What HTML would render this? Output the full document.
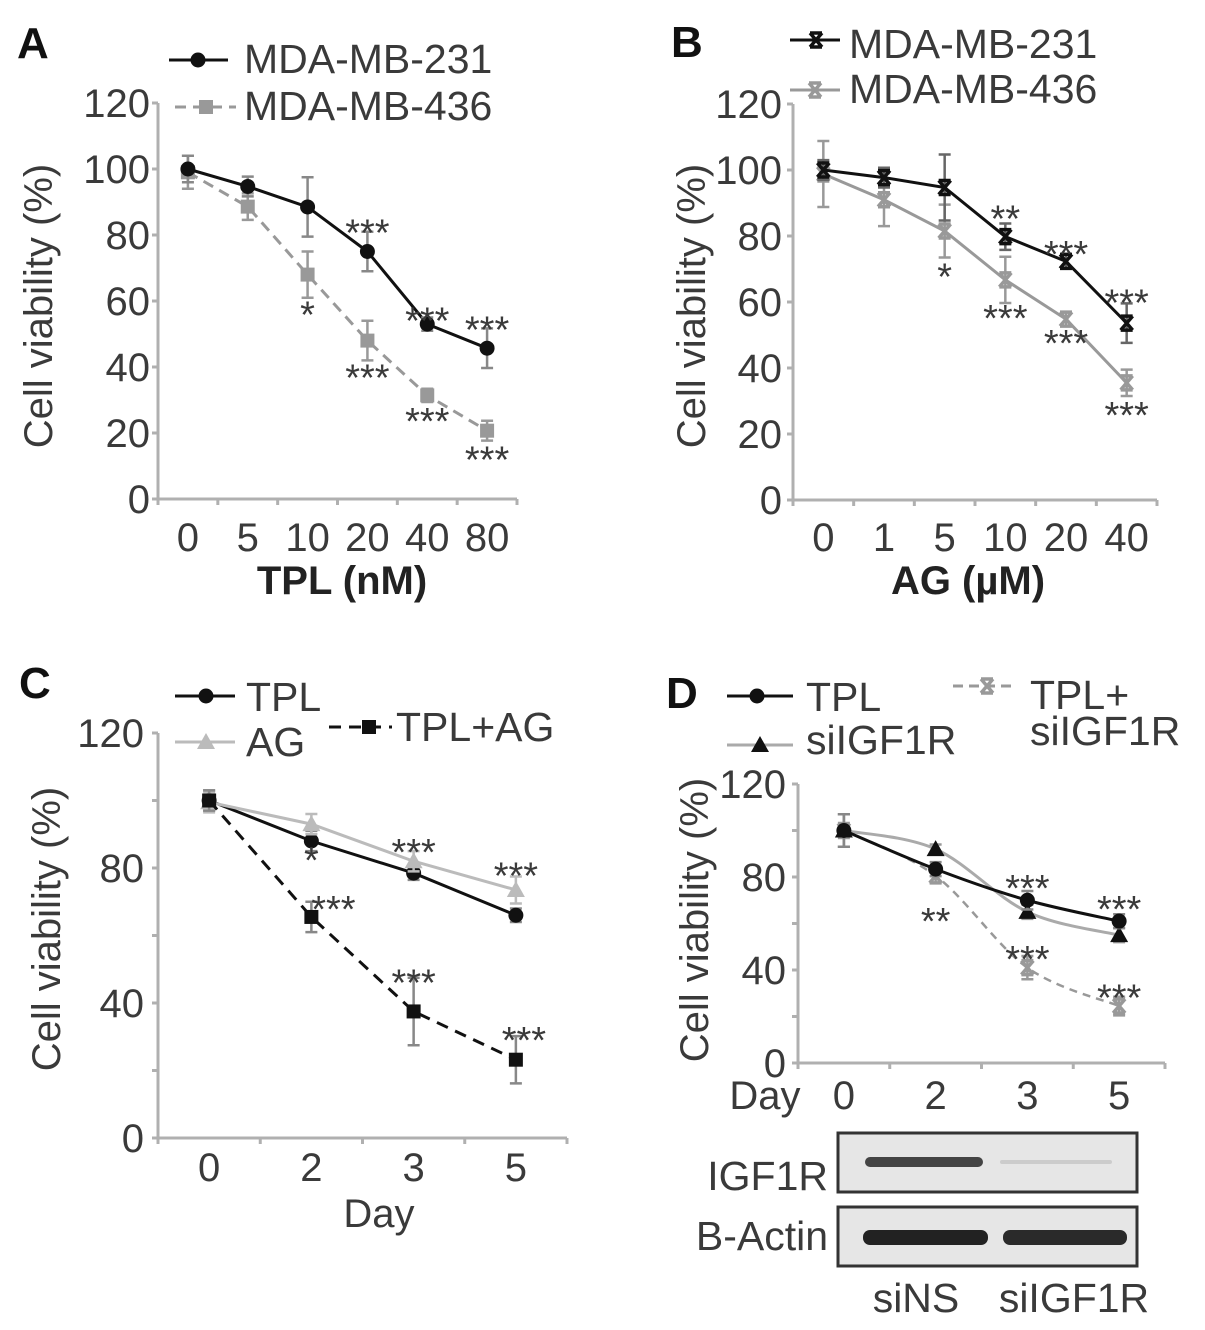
<!DOCTYPE html>
<html><head><meta charset="utf-8"><style>
html,body{margin:0;padding:0;background:#fff;}
svg{display:block;font-family:"Liberation Sans",Arial,sans-serif;}
</style></head><body>
<svg id="fig" width="1205" height="1330" viewBox="0 0 1205 1330" xmlns="http://www.w3.org/2000/svg"></svg>
<script>
// ---- Panel A data ----
const aCats = ["0","5","10","20","40","80"];
const a231 = [100, 94.7, 88.5, 75, 53, 45.7];
const a231Err = [4, 3, 9, 6, 2, 6];
const a436 = [99, 88.6, 68, 48, 31.4, 20.7];
const a436Err = [5, 4, 7, 6, 2, 3];
const aStars231 = ["", "", "", "***", "***", "***"];
const aStars436 = ["", "", "*", "***", "***", "***"];
// ---- Panel B data ----
const bCats = ["0","1","5","10","20","40"];
const b231 = [100, 97.7, 94.7, 79.8, 72.3, 53.6];
const b231Err = [3, 3, 10, 4, 2, 6];
const b436 = [98.8, 91, 81.5, 66.7, 54.8, 35.5];
const b436Err = [10, 8, 8, 7, 2, 4];
const bStars231 = ["", "", "", "**", "***", "***"];
const bStars436 = ["", "", "*", "***", "***", "***"];
// ---- Panel C data ----
const cCats = ["0","2","3","5"];
const cTPL = [100, 88, 78.5, 66];
const cTPLErr = [3, 3, 2, 2];
const cAG = [99.5, 93, 82, 73.5];
const cAGErr = [3, 3, 3, 4];
const cCombo = [100, 65.5, 37.5, 23.2];
const cComboErr = [3, 4.5, 10, 7];
const cStarsTop = ["", "*", "***", "***"];
const cStarsCombo = ["", "***", "***", "***"];
// ---- Panel D data ----
const dCats = ["0","2","3","5"];
const dTPL = [100, 83.4, 70, 61];
const dTPLErr = [7, 3, 4, 3];
const dSi = [100, 92, 65, 55];
const dSiErr = [7, 2, 3, 3];
const dCombo = [100, 80.5, 41, 24.5];
const dComboErr = [7, 3, 5, 4];
const dStarsTop = ["", "**", "***", "***"];
const dStarsCombo = ["", "", "***", "***"];
const yTicksAB = [0,20,40,60,80,100,120];
const yTicksCD = [0,40,80,120];

const NS = "http://www.w3.org/2000/svg";
const svg = document.getElementById('fig');
function el(tag, attrs, parent){
  const e = document.createElementNS(NS, tag);
  for (const k in attrs) e.setAttribute(k, attrs[k]);
  (parent||svg).appendChild(e);
  return e;
}
function txt(s, x, y, size, opts, parent){
  opts = opts||{};
  const t = el('text', {x:x, y:y, 'font-size':size, fill:opts.fill||'#3a3a3a', 'text-anchor':opts.anchor||'start', 'font-weight':opts.bold?'bold':'normal'}, parent);
  if (opts.transform) t.setAttribute('transform', opts.transform);
  t.textContent = s;
  return t;
}
function marker(g, type, x, y, color){
  let m;
  if (type==='circle') m = el('circle',{cx:x,cy:y,r:7.5,fill:color},g);
  else if (type==='square') m = el('rect',{x:x-7,y:y-7,width:14,height:14,fill:color},g);
  else if (type==='tri') m = el('path',{d:`M${x} ${y-9}L${x+9} ${y+7}L${x-9} ${y+7}Z`,fill:color},g);
  else if (type==='x') m = el('path',{d:`M${x-6} ${y-7}L${x+6} ${y+7}M${x+6} ${y-7}L${x-6} ${y+7}M${x-6} ${y-7}H${x+6}M${x-6} ${y+7}H${x+6}`,stroke:color,'stroke-width':3.5,fill:'none'},g);
  return m;
}
function smoothPath(pts){
  let d = `M${pts[0][0]} ${pts[0][1]}`;
  for (let i=0;i<pts.length-1;i++){
    const p0=pts[Math.max(i-1,0)], p1=pts[i], p2=pts[i+1], p3=pts[Math.min(i+2,pts.length-1)];
    const c1=[p1[0]+(p2[0]-p0[0])/6, p1[1]+(p2[1]-p0[1])/6];
    const c2=[p2[0]-(p3[0]-p1[0])/6, p2[1]-(p3[1]-p1[1])/6];
    d += `C${c1[0]} ${c1[1]} ${c2[0]} ${c2[1]} ${p2[0]} ${p2[1]}`;
  }
  return d;
}

function panel(cfg){
  const g = el('g',{});
  
  
  const n = cfg.cats.length;
  const bw = (cfg.x1-cfg.x0)/n;
  const xS = i => cfg.x0 + bw*(i+0.5);
  const yS = v => cfg.y0 - (v/120)*(cfg.y0-cfg.y120);
  const ax = el('path',{d:`M${cfg.x0} ${cfg.y120}V${cfg.y0}H${cfg.x1}`,stroke:'#b0b0b0','stroke-width':3,fill:'none'},g);
  
  
  for (let i=0;i<=n;i++){
    const x = cfg.x0+bw*i;
    el('line',{x1:x,y1:cfg.y0,x2:x,y2:cfg.y0+6,stroke:'#b0b0b0','stroke-width':3},g);
  }
  for (let v=0; v<=120; v+=20){
    el('line',{x1:cfg.x0-6,y1:yS(v),x2:cfg.x0,y2:yS(v),stroke:'#b0b0b0','stroke-width':3},g);
  }
  cfg.yTicks.forEach(v=>{
    const t = txt(String(v), cfg.tickRight, yS(v)+14, 40, {anchor:'end'}, g);
    
    
  });
  cfg.cats.forEach((c,i)=>{
    const t = txt(c, xS(i), cfg.xLabelY, 40, {anchor:'middle'}, g);
    
    
  });
  const yt = txt('Cell viability (%)', 0, 0, 40, {anchor:'middle', transform:`translate(${cfg.ytX},${cfg.ytY}) rotate(-90)`}, g);
  
  
  if (cfg.xTitle){
    const xt = txt(cfg.xTitle, cfg.xtX, cfg.xtY, 40, {anchor:'middle', bold:cfg.xtBold, fill:cfg.xtBold?'#222':'#3a3a3a'}, g);
    
    
  }
  const lt = txt(cfg.letter, cfg.lX, cfg.lY, 44, {bold:true, fill:'#111'}, g);
  
  
  cfg.series.forEach(s=>{
    const sg = el('g',{},g);
    
    
    const pts = s.vals.map((v,i)=>[xS(i), yS(v)]);
    const d = s.smooth ? smoothPath(pts) : 'M'+pts.map(p=>p[0]+' '+p[1]).join('L');
    const ln = el('path',{d:d,stroke:s.color,'stroke-width':s.w||3,fill:'none'},sg);
    if (s.dash) ln.setAttribute('stroke-dasharray', s.dash);
    
    
    s.vals.forEach((v,i)=>{
      const x=xS(i), e=s.err[i];
      const eb = el('path',{d:`M${x} ${yS(v+e)}V${yS(v-e)}M${x-6} ${yS(v+e)}H${x+6}M${x-6} ${yS(v-e)}H${x+6}`,stroke:s.ecolor||s.color,'stroke-width':2.5,fill:'none'},sg);
      
      
      const m = marker(sg, s.marker, x, yS(v), s.mcolor||s.color);
      
      
    });
    if (s.stars){
      s.stars.forEach((st,i)=>{
        if(!st) return;
        const v = s.vals[i];
        const base = s.starAbove ? yS(v+s.err[i]) - s.starOff[i] : yS(v-s.err[i]) + s.starOff[i];
        const t = txt(st, xS(i)+(s.starDx?s.starDx[i]:0), base+22, 38, {anchor:'middle'}, sg);
        
        
      });
    }
  });
  cfg.legend.forEach(L=>{
    const lg = el('g',{},g);
    
    
    const l = el('line',{x1:L.x1,y1:L.y,x2:L.x2,y2:L.y,stroke:L.color,'stroke-width':3},lg);
    if (L.dash) l.setAttribute('stroke-dasharray', L.dash);
    marker(lg, L.marker, L.mx, L.y, L.mcolor||L.color);
    L.text.forEach((t,k)=> txt(t, L.tx, L.ty[k], 41, {}, lg));
  });
}

panel({name:'panel-a-chart', cats:aCats, x0:158, x1:517, y0:499, y120:103, tickRight:150, xLabelY:551, yTicks:yTicksAB,
  ytX:52, ytY:306, xTitle:'TPL (nM)', xtX:342, xtY:594, xtBold:true, letter:'A', lX:17, lY:58,
  series:[
    {name:'series-mda-mb-436', vals:a436, err:a436Err, color:'#999', marker:'square', dash:'11 7', stars:aStars436, starAbove:false, starOff:[0,0,8,8,10,10]},
    {name:'series-mda-mb-231', vals:a231, err:a231Err, color:'#111', ecolor:'#888', marker:'circle', stars:aStars231, starAbove:true, starOff:[0,0,0,8,6,8]}
  ],
  legend:[
    {x1:169,x2:228,y:60,color:'#111',marker:'circle',mx:198,tx:244,ty:[73],text:['MDA-MB-231']},
    {x1:175,x2:236,y:107,color:'#999',marker:'square',mx:206,dash:'11 7',tx:244,ty:[120],text:['MDA-MB-436']}
  ]});

panel({name:'panel-b-chart', cats:bCats, x0:793, x1:1157, y0:500, y120:104, tickRight:782, xLabelY:551, yTicks:yTicksAB,
  ytX:705, ytY:306, xTitle:'AG (µM)', xtX:968, xtY:594, xtBold:true, letter:'B', lX:671, lY:57,
  series:[
    {name:'series-mda-mb-436', vals:b436, err:b436Err, color:'#999', marker:'x', stars:bStars436, starAbove:false, starOff:[0,0,10,6,8,10]},
    {name:'series-mda-mb-231', vals:b231, err:b231Err, color:'#111', ecolor:'#666', marker:'x', stars:bStars231, starAbove:true, starOff:[0,0,0,14,10,10]}
  ],
  legend:[
    {x1:790,x2:840,y:40,color:'#111',marker:'x',mx:816,tx:849,ty:[58],text:['MDA-MB-231']},
    {x1:790,x2:840,y:90,color:'#999',marker:'x',mx:815,tx:849,ty:[103],text:['MDA-MB-436']}
  ]});

panel({name:'panel-c-chart', cats:cCats, x0:158, x1:567, y0:1138, y120:733, tickRight:144, xLabelY:1181, yTicks:yTicksCD,
  ytX:60, ytY:929, xTitle:'Day', xtX:379, xtY:1227, xtBold:false, letter:'C', lX:19, lY:698,
  series:[
    {name:'series-tpl', vals:cTPL, err:cTPLErr, color:'#111', ecolor:'#888', marker:'circle', stars:['', '*','',''], starAbove:false, starOff:[0,0,-4,0]},
    {name:'series-ag', vals:cAG, err:cAGErr, color:'#bbb', marker:'tri', stars:['', '', '***','***'], starAbove:true, starOff:[0,0,8,10]},
    {name:'series-tpl-ag', vals:cCombo, err:cComboErr, color:'#111', ecolor:'#888', marker:'square', dash:'12 8', stars:cStarsCombo, starAbove:true, starOff:[0,2,4,5], starDx:[0,22,0,8]}
  ],
  legend:[
    {x1:175,x2:235,y:696,color:'#111',marker:'circle',mx:206,tx:246,ty:[711],text:['TPL']},
    {x1:175,x2:235,y:742,color:'#bbb',marker:'tri',mx:206,tx:246,ty:[756],text:['AG']},
    {x1:329,x2:392,y:727,color:'#111',marker:'square',mx:369,dash:'12 8',tx:396,ty:[741],text:['TPL+AG']}
  ]});

panel({name:'panel-d-chart', cats:dCats, x0:798, x1:1165, y0:1063, y120:784, tickRight:786, xLabelY:1109, yTicks:yTicksCD,
  ytX:708, ytY:920, xTitle:'Day', xtX:765, xtY:1109, xtBold:false, letter:'D', lX:666, lY:708,
  series:[
    {name:'series-tpl-siigf1r', vals:dCombo, err:dComboErr, color:'#999', marker:'x', dash:'8 6', w:2.5, smooth:true, stars:dStarsCombo, starAbove:true, starOff:[0,0,6,8]},
    {name:'series-siigf1r', vals:dSi, err:dSiErr, color:'#aaa', mcolor:'#111', ecolor:'#999', marker:'tri', smooth:true},
    {name:'series-tpl', vals:dTPL, err:dTPLErr, color:'#111', ecolor:'#888', marker:'circle', smooth:true, stars:dStarsTop, starAbove:true, starOff:[0,-50,12,14]}
  ],
  legend:[
    {x1:727,x2:793,y:696,color:'#111',marker:'circle',mx:757,tx:806,ty:[711],text:['TPL']},
    {x1:727,x2:793,y:745,color:'#aaa',mcolor:'#111',marker:'tri',mx:760,tx:806,ty:[754],text:['siIGF1R']},
    {x1:953,x2:1015,y:686,color:'#999',marker:'x',mx:987,dash:'10 6',tx:1030,ty:[709,745],text:['TPL+','siIGF1R']}
  ]});

const blot = el('g',{});


const rows = [{label:'IGF1R', y:1133, h:59, ty:1190}, {label:'B-Actin', y:1207, h:59, ty:1250}];
rows.forEach(r=>{
  const b = el('rect',{x:838,y:r.y,width:299,height:r.h,fill:'#e6e6e6',stroke:'#333','stroke-width':3},blot);
  
  
  const t = txt(r.label, 828, r.ty, 41, {anchor:'end'}, blot);
  
  
});
el('rect',{x:865,y:1157,width:118,height:10,rx:5,fill:'#444'},blot);
el('rect',{x:1000,y:1160,width:112,height:4,rx:2,fill:'#ccc'},blot);
el('rect',{x:863,y:1230,width:125,height:15,rx:7,fill:'#222'},blot);
el('rect',{x:1003,y:1230,width:124,height:15,rx:7,fill:'#2a2a2a'},blot);
const l1 = txt('siNS', 916, 1312, 41, {anchor:'middle'}, blot);


const l2 = txt('siIGF1R', 1074, 1312, 41, {anchor:'middle'}, blot);


</script>
</body></html>
